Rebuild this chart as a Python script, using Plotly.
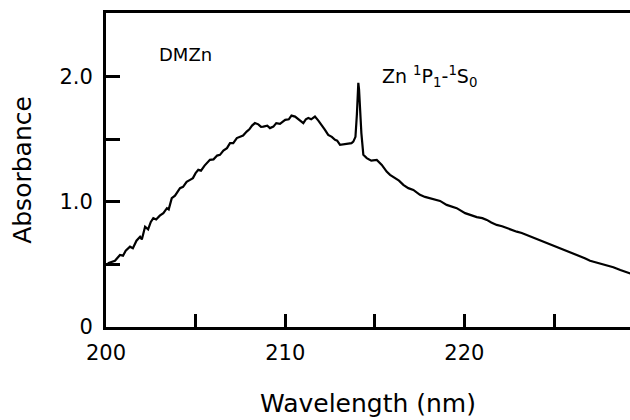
import plotly.graph_objects as go

wavelength = [
    200.1, 200.32, 200.5, 200.78, 200.95, 201.1, 201.34, 201.5, 201.7, 201.9,
    202.0, 202.18, 202.35, 202.5, 202.64, 202.8, 203.0, 203.2, 203.4, 203.5,
    203.67, 203.85, 204.0, 204.13, 204.3, 204.5, 204.69, 204.85, 205.0, 205.15,
    205.3, 205.5, 205.8, 206.0, 206.2, 206.36, 206.55, 206.75, 206.92, 207.1,
    207.3, 207.48, 207.65, 207.85, 208.0, 208.15, 208.31, 208.5, 208.65, 208.78,
    209.0, 209.15, 209.34, 209.5, 209.71, 209.85, 210.0, 210.2, 210.35, 210.55,
    210.75, 211.01, 211.15, 211.29, 211.45, 211.66, 211.85, 212.04, 212.2, 212.4,
    212.6, 212.78, 212.9, 213.06, 213.3, 213.52, 213.7, 213.8, 213.92, 214.0,
    214.08, 214.12, 214.17, 214.25, 214.36, 214.55, 214.8, 215.11, 215.39, 215.66,
    215.85, 216.13, 216.35, 216.59, 216.87, 217.15, 217.52, 217.8, 218.08, 218.35,
    218.64, 219.01, 219.3, 219.57, 220.04, 220.35, 220.69, 221.0, 221.25, 221.5,
    221.8, 222.1, 222.36, 222.65, 222.92, 223.2, 223.48, 223.75, 224.03, 224.3,
    224.59, 224.85, 225.15, 225.45, 225.71, 226.1, 226.45, 226.75, 227.01, 227.4,
    227.75, 228.0, 228.31, 228.7, 229.15, 229.3,
]
absorbance = [
    0.51, 0.522, 0.53, 0.576, 0.57, 0.61, 0.642, 0.63, 0.69, 0.722,
    0.70, 0.802, 0.78, 0.84, 0.870, 0.86, 0.89, 0.910, 0.95, 0.94,
    1.030, 1.05, 1.08, 1.110, 1.12, 1.16, 1.176, 1.19, 1.23, 1.256,
    1.25, 1.29, 1.336, 1.34, 1.37, 1.376, 1.41, 1.43, 1.470, 1.47,
    1.51, 1.522, 1.53, 1.562, 1.58, 1.61, 1.630, 1.62, 1.60, 1.602,
    1.61, 1.59, 1.602, 1.63, 1.624, 1.64, 1.656, 1.66, 1.69, 1.682,
    1.66, 1.630, 1.66, 1.670, 1.66, 1.682, 1.65, 1.616, 1.58, 1.536,
    1.52, 1.496, 1.49, 1.456, 1.46, 1.464, 1.47, 1.482, 1.52, 1.70,
    1.952, 1.90, 1.736, 1.55, 1.376, 1.350, 1.33, 1.336, 1.296, 1.242,
    1.216, 1.190, 1.17, 1.136, 1.110, 1.096, 1.056, 1.04, 1.030, 1.02,
    1.008, 0.976, 0.965, 0.950, 0.910, 0.895, 0.878, 0.87, 0.856, 0.835,
    0.816, 0.805, 0.790, 0.778, 0.762, 0.752, 0.736, 0.722, 0.702, 0.688,
    0.670, 0.660, 0.642, 0.625, 0.610, 0.588, 0.568, 0.548, 0.530, 0.515,
    0.502, 0.490, 0.478, 0.455, 0.430, 0.425,
]

x_tickvals = [200, 210, 220]
x_ticktext = ["200", "210", "220"]
x_minor_tickvals = [205, 215, 225]
y_tickvals = [0, 1.0, 2.0]
y_ticktext = ["0", "1.0", "2.0"]
y_minor_tickvals = [0.5, 1.5]

FONT = "DejaVu Sans"

fig = go.Figure()
fig.add_trace(go.Scatter(
    x=wavelength, y=absorbance, mode="lines",
    line=dict(color="black", width=2.2), showlegend=False,
))

fig.add_annotation(x=202.83, y=2.176, xref="x", yref="y", text="DMZn",
                   showarrow=False, xanchor="left", yanchor="middle",
                   font=dict(family=FONT, size=18, color="black"))
fig.add_annotation(x=215.3, y=2.0, xref="x", yref="y",
                   text="Zn <sup>1</sup>P<sub>1</sub>-<sup>1</sup>S<sub>0</sub>",
                   showarrow=False, xanchor="left", yanchor="middle",
                   font=dict(family=FONT, size=19, color="black"))

fig.update_layout(
    width=630, height=420,
    margin=dict(l=106, r=0, t=13, b=93),
    paper_bgcolor="white", plot_bgcolor="white",
    font=dict(family=FONT, color="black"),
    xaxis=dict(
        range=[200, 229.24], showgrid=False, zeroline=False,
        showline=True, linecolor="black", linewidth=3, mirror=True,
        ticks="inside", ticklen=13, tickwidth=3, tickcolor="black",
        tickvals=x_tickvals, ticktext=x_ticktext,
        minor=dict(tickmode="array", tickvals=x_minor_tickvals, ticks="inside",
                   ticklen=13, tickwidth=3, tickcolor="black", showgrid=False),
        tickfont=dict(family=FONT, size=21, color="black"),
        ticklabelstandoff=5,
        title=dict(text="Wavelength (nm)", font=dict(family=FONT, size=25, color="black"),
                   standoff=31),
    ),
    yaxis=dict(
        range=[0, 2.51], showgrid=False, zeroline=False,
        showline=True, linecolor="black", linewidth=3, mirror=False,
        ticks="inside", ticklen=14, tickwidth=3, tickcolor="black",
        tickvals=y_tickvals, ticktext=y_ticktext,
        minor=dict(tickmode="array", tickvals=y_minor_tickvals, ticks="inside",
                   ticklen=14, tickwidth=3, tickcolor="black", showgrid=False),
        tickfont=dict(family=FONT, size=21, color="black"),
        ticklabelstandoff=6,
        title=dict(text="Absorbance", font=dict(family=FONT, size=25, color="black"),
                   standoff=21),
    ),
)

fig.write_html("out.html")
